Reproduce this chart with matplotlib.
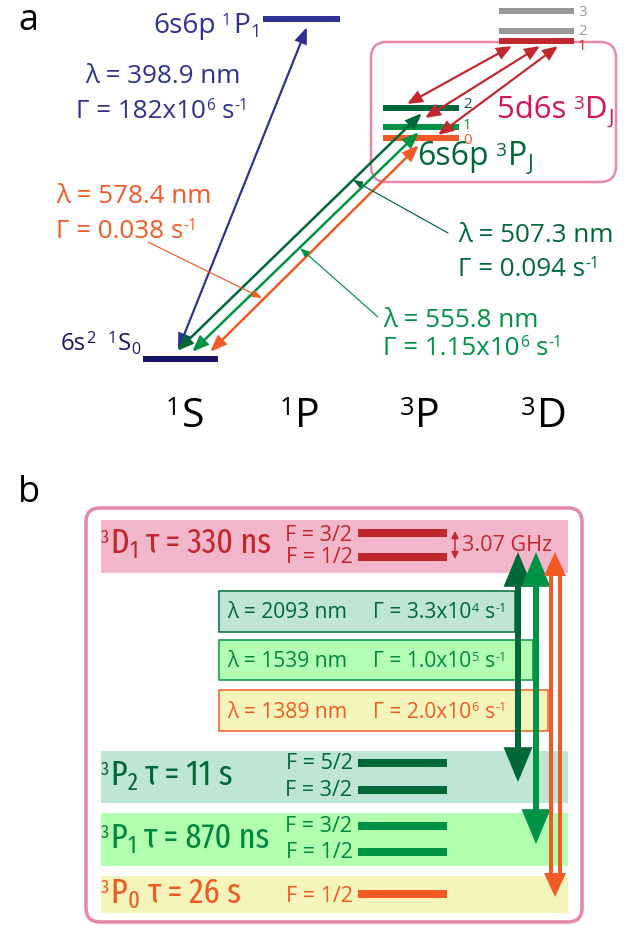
import re
import matplotlib
matplotlib.use('Agg')
import matplotlib.pyplot as plt
from matplotlib import font_manager as fm
from matplotlib.font_manager import FontProperties
from matplotlib.ft2font import FT2Font
from matplotlib.patches import FancyBboxPatch, FancyArrowPatch, Rectangle


def pick_file(cands, need='λΓτ'):
    for c in cands:
        for f in fm.fontManager.ttflist:
            if (f.name == c and f.style == 'normal' and f.weight in (400, 'normal', 'regular')
                    and '[' not in f.fname and 'ariable' not in f.fname):
                try:
                    cm = FT2Font(f.fname).get_charmap()
                except Exception:
                    continue
                if all(ord(ch) in cm for ch in need):
                    return f.fname
    return None


MAIN_F = pick_file(['Open Sans', 'Noto Sans', 'Fira Sans', 'Lato', 'DejaVu Sans'])
COND_F = pick_file(['Fira Sans Extra Condensed', 'Roboto Condensed', 'Open Sans Condensed',
                    'Liberation Sans Narrow']) or MAIN_F


def fprop(fname, size):
    if fname:
        return FontProperties(fname=fname, size=size)
    return FontProperties(family='DejaVu Sans', size=size)


# ---------------- data ----------------
a_columns = ['{^1}S', '{^1}P', '{^3}P', '{^3}D']
a_upper = '6s6p {^1}P{_1}'
a_ground = '6s{^2} {^1}S{_0}'
a_triplet_P = '6s6p {^3}P{_J}'
a_triplet_D = '5d6s {^3}D{_J}'
a_wavelengths_nm = [398.9, 578.4, 507.3, 555.8]
a_rates = ['182x10{^6} s{^-1}', '0.038 s{^-1}', '0.094 s{^-1}', '1.15x10{^6} s{^-1}']
p_J = ['2', '1', '0']
d_J = ['3', '2', '1']
b_states = ['{^3}D{_1}', '{^3}P{_2}', '{^3}P{_1}', '{^3}P{_0}']
b_lifetimes = ['330 ns', '11 s', '870 ns', '26 s']
b_F = [['3/2', '1/2'], ['5/2', '3/2'], ['3/2', '1/2'], ['1/2']]
b_wavelengths_nm = [2093, 1539, 1389]
b_rates = ['3.3x10{^4}', '1.0x10{^5}', '2.0x10{^6}']
hfs_GHz = 3.07

# colours
NAVY = '#2e3192'
DNAVY = '#1b1464'
DGREEN = '#006837'
GREEN = '#009245'
ORANGE = '#f15a24'
RED = '#c1272d'
GREY = '#999999'
PINK = '#e788aa'
CRIMSON = '#d4145a'

fig = plt.figure(figsize=(6.37, 9.26), dpi=100)
ax = fig.add_axes([0, 0, 1, 1])
ax.set_xlim(0, 637)
ax.set_ylim(926, 0)
ax.axis('off')
PT = 0.72
renderer = fig.canvas.get_renderer()
TOK = re.compile(r'\{\^([^}]*)\}|\{_([^}]*)\}|([^{]+)')


def rich(x, y, s, c, px, ha='left', fname=None, sup=0.6, sub=0.66, z=5, sp=0.2):
    fname = fname or MAIN_F
    pieces = []
    for m in TOK.finditer(s):
        if m.group(1) is not None:
            pieces.append((m.group(1), sup, -0.29))
        elif m.group(2) is not None:
            pieces.append((m.group(2), sub, 0.15))
        else:
            pieces.append((m.group(3), 1.0, 0.0))
    objs, lead, trail = [], [], []
    for t, sc, dy in pieces:
        st = t.strip(' ')
        lead.append(len(t) - len(t.lstrip(' ')))
        trail.append(len(t) - len(t.rstrip(' ')))
        o = ax.text(0, y + dy * px, st, color=c, fontproperties=fprop(fname, px * sc * PT),
                    ha='left', va='baseline', zorder=z)
        objs.append(o)
    ws = [o.get_window_extent(renderer).width if o.get_text() else 0 for o in objs]
    gap = sp * px
    xs, cur = [], 0.0
    for w, l, tr, (t, sc, dy) in zip(ws, lead, trail, pieces):
        cur += l * gap
        xs.append(cur)
        cur += w + tr * gap + (1.5 if sc != 1.0 else 0.5)
    total = cur
    x0 = x if ha == 'left' else (x - total if ha == 'right' else x - total / 2)
    for o, xi in zip(objs, xs):
        o.set_x(x0 + xi)


def bar(x0, x1, y, c, h):
    ax.plot([x0, x1], [y, y], color=c, lw=h * PT, solid_capstyle='butt', zorder=3)


def arrow(p0, p1, c, lw, hl, hw, style='<|-|>', z=3):
    ax.add_patch(FancyArrowPatch(
        p0, p1, arrowstyle=f'{style},head_length={hl * PT},head_width={hw * PT}',
        mutation_scale=1, color=c, lw=lw * PT, shrinkA=0, shrinkB=0, zorder=z,
        joinstyle='miter'))


# ================= panel a =================
rich(18, 30, 'a', 'black', 36)

ax.add_patch(FancyBboxPatch((371, 42), 245, 140,
                            boxstyle='round,pad=0,rounding_size=16',
                            fc='none', ec=PINK, lw=2.5 * PT, zorder=1))

bar(263, 340, 19, NAVY, 6)                       # 1P1
bar(143, 218, 359, DNAVY, 6)                     # 1S0
for y, c in zip([11, 31, 41], [GREY, GREY, RED]):
    bar(499, 574, y, c, 6)                       # 3D J
for y, c in zip([108, 127, 138], [DGREEN, GREEN, ORANGE]):
    bar(383, 459, y, c, 6)                       # 3P J
for j, y, c in zip(d_J, [16, 35, 50], [GREY, GREY, RED]):
    rich(578, y, j, c, 15)
for j, y, c in zip(p_J, [108, 129, 144], [DGREEN, GREEN, ORANGE]):
    rich(463, y, j, c, 15)

rich(262, 33, a_upper, NAVY, 28, ha='right')
rich(142, 350, a_ground, DNAVY, 24, ha='right', sup=0.68)
rich(497, 118, a_triplet_D, CRIMSON, 31)
rich(417, 165, a_triplet_P, DGREEN, 32)

arrow((178, 350), (307, 27), NAVY, 2.2, 13, 5)
arrow((177, 351), (422, 113), DGREEN, 2.5, 13, 5)
arrow((192, 352), (419, 132), GREEN, 2.5, 13, 5)
arrow((210, 352), (419, 145), ORANGE, 2.5, 13, 5)
arrow((512, 46), (407, 104), RED, 2.2, 12, 5)
arrow((540, 46), (425, 118), RED, 2.2, 12, 5)
arrow((558, 46), (438, 135), RED, 2.2, 12, 5)

arrow((148, 242), (262, 298), ORANGE, 1.2, 8, 3, style='-|>')
arrow((448, 233), (353, 180), DGREEN, 1.2, 8, 3, style='-|>')
arrow((378, 317), (300, 248), GREEN, 1.2, 8, 3, style='-|>')

rich(163, 83, f'λ = {a_wavelengths_nm[0]} nm', NAVY, 26, ha='center')
rich(163, 118, f'Γ = {a_rates[0]}', NAVY, 26, ha='center')
rich(56, 203, f'λ = {a_wavelengths_nm[1]} nm', ORANGE, 26)
rich(56, 238, f'Γ = {a_rates[1]}', ORANGE, 26)
rich(458, 242, f'λ = {a_wavelengths_nm[2]} nm', DGREEN, 26)
rich(458, 276, f'Γ = {a_rates[2]}', DGREEN, 26)
rich(383, 327, f'λ = {a_wavelengths_nm[3]} nm', GREEN, 26)
rich(383, 355, f'Γ = {a_rates[3]}', GREEN, 26)

for x, s in zip([185, 300, 420, 544], a_columns):
    rich(x, 427, s, 'black', 41, ha='center', sup=0.62)

# ================= panel b =================
rich(18, 502, 'b', 'black', 36)

ax.add_patch(FancyBboxPatch((86, 508), 496, 414,
                            boxstyle='round,pad=0,rounding_size=14',
                            fc='none', ec=PINK, lw=3.5 * PT, zorder=1))

band_fc = ['#f3b7cc', '#bfe6d4', '#b3ffb0', '#f5f5bb']
band_y = [(520, 573), (751, 803), (813, 866), (876, 913)]
state_col = [RED, DGREEN, '#00873f', ORANGE]
bar_col = [RED, DGREEN, GREEN, ORANGE]
state_base = [553, 785, 848, 903]
F_ys = [[533, 557], [763, 790], [826, 852], [894]]
F_base = [[541, 563], [769, 796], [832, 858], [902]]
for i in range(4):
    y0, y1 = band_y[i]
    ax.add_patch(Rectangle((101, y0), 467, y1 - y0, fc=band_fc[i], ec='none', zorder=0.5))
    rich(101, state_base[i], f'{b_states[i]} τ = {b_lifetimes[i]}', state_col[i], 35,
         fname=COND_F, sup=0.55, sub=0.7, sp=0.16)
    for F, y, yb in zip(b_F[i], F_ys[i], F_base[i]):
        rich(353, yb, f'F = {F}', state_col[i], 21.5, ha='right')
        bar(358, 447, y, bar_col[i], 8)

arrow((455, 531), (455, 559), RED, 1.4, 6, 3)
rich(462, 551, f'{hfs_GHz} GHz', RED, 21.5)

box_y = [(591, 632), (640, 680), (690, 731)]
box_x1 = [515, 533, 548]
box_fc = ['#bfe6d4', '#b3ffb3', '#f5f5bb']
box_ec = [DGREEN, GREEN, ORANGE]
box_tc = [DGREEN, '#00873f', ORANGE]
for i in range(3):
    y0, y1 = box_y[i]
    ax.add_patch(Rectangle((219, y0), box_x1[i] - 219, y1 - y0, fc=box_fc[i],
                           ec=box_ec[i], lw=1.5 * PT, zorder=1))
    yb = (y0 + y1) / 2 + 7
    rich(227, yb, f'λ = {b_wavelengths_nm[i]} nm', box_tc[i], 21)
    rich(373, yb, f'Γ = {b_rates[i]} s{{^-1}}', box_tc[i], 21)

arrow((518, 552), (518, 782), DGREEN, 6, 24, 10, z=4)
arrow((536, 552), (536, 844), GREEN, 6, 24, 10, z=4)
arrow((555, 552), (555, 897), ORANGE, 0, 24, 11, z=4)
for x in (550.5, 559.5):
    ax.plot([x, x], [570, 880], color=ORANGE, lw=4 * PT, zorder=4, solid_capstyle='butt')

fig.savefig('out.png', dpi=100)
